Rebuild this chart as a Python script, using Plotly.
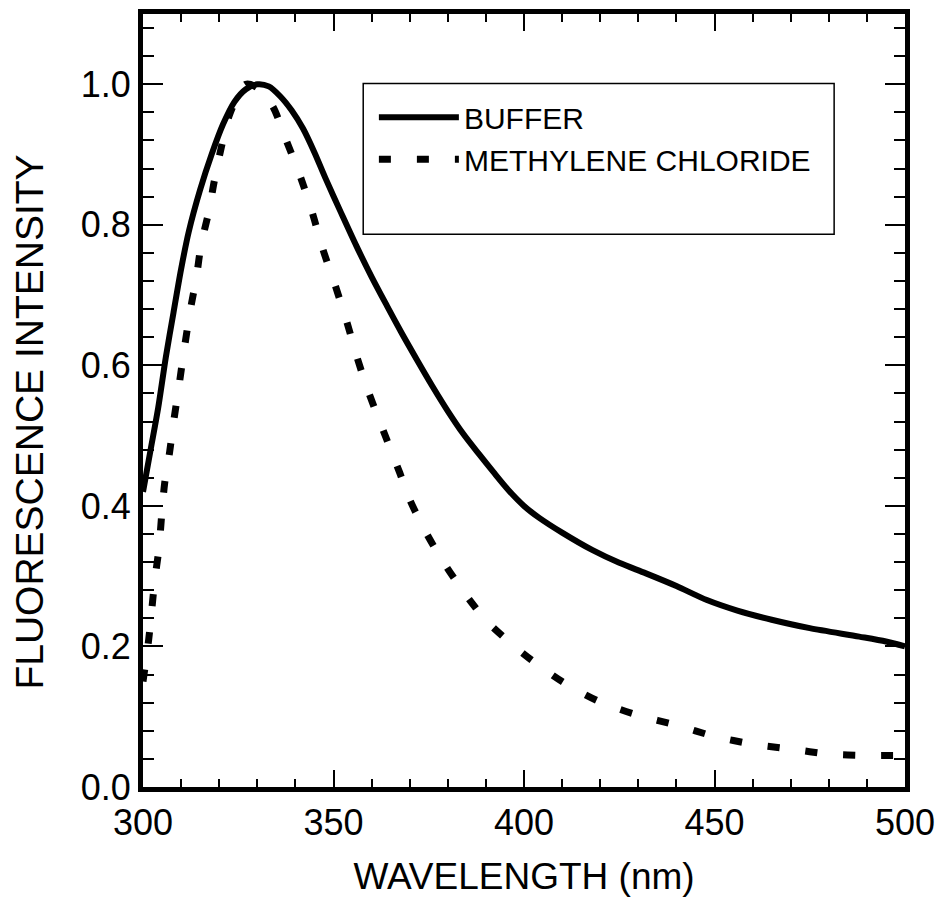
import plotly.graph_objects as go

# Emission spectra (normalized fluorescence intensity vs wavelength)
buffer_wl = [300, 302, 304, 306, 308, 310, 312, 315, 318, 321, 324, 327, 330, 333,
             336, 339, 342, 345, 348, 352, 356, 360, 364, 368, 372, 376, 380, 384,
             388, 392, 396, 400, 404, 410, 418, 425, 432, 440, 448, 456, 465, 475,
             488, 495, 500]
buffer_int = [0.42, 0.48, 0.54, 0.612, 0.675, 0.737, 0.79, 0.85, 0.90, 0.943, 0.975,
              0.993, 1.0, 0.997, 0.983, 0.963, 0.937, 0.903, 0.865, 0.817, 0.77, 0.726,
              0.685, 0.645, 0.607, 0.57, 0.535, 0.503, 0.475, 0.448, 0.422, 0.40, 0.383,
              0.362, 0.337, 0.319, 0.304, 0.286, 0.266, 0.251, 0.238, 0.226, 0.214,
              0.207, 0.20]

mecl_wl = [300, 301.5, 303.1, 304.2, 304.9, 305.7, 307, 308.1, 309.4, 310.9, 312.5,
           314, 315.3, 317.2, 318.7, 320.5, 322.6, 325, 327, 330, 334, 337.4, 341.4,
           344.5, 347.1, 350.5, 353.6, 356.2, 359, 361, 364, 367.4, 370, 374.6,
           379.8, 386.3, 390.2, 400, 410, 420, 430, 440, 450, 460, 470, 480, 490, 500]
mecl_int = [0.15, 0.21, 0.295, 0.34, 0.387, 0.433, 0.477, 0.522, 0.569, 0.626, 0.681,
            0.725, 0.773, 0.817, 0.862, 0.909, 0.955, 0.985, 1.0, 0.995, 0.969, 0.923,
            0.867, 0.816, 0.767, 0.713, 0.66, 0.611, 0.565, 0.536, 0.494, 0.447,
            0.409, 0.359, 0.312, 0.262, 0.236, 0.189, 0.150, 0.121, 0.102, 0.088,
            0.072, 0.061, 0.054, 0.047, 0.045, 0.045]

x_ticks = [300, 350, 400, 450, 500]
y_ticks = [0.0, 0.2, 0.4, 0.6, 0.8, 1.0]
x_range = [300, 500]
y_range = [0, 1.1]

FONT = "Liberation Sans, Arial, Helvetica, sans-serif"

fig = go.Figure()
fig.add_trace(go.Scatter(x=buffer_wl, y=buffer_int, mode="lines", name="BUFFER",
                         line=dict(color="black", width=6, shape="spline", smoothing=0.8)))
fig.add_trace(go.Scatter(x=mecl_wl, y=mecl_int, mode="lines", name="METHYLENE CHLORIDE",
                         line=dict(color="black", width=7, dash="12px,26px",
                                   shape="spline", smoothing=0.8)))
# empty trace that brings the top/right frame axes into existence
fig.add_trace(go.Scatter(x=[None], y=[None], xaxis="x2", yaxis="y2", mode="lines",
                         showlegend=False, hoverinfo="skip"))

frame = dict(showgrid=False, zeroline=False, showline=True, linecolor="black",
             linewidth=5, ticks="inside", tickcolor="black", tickwidth=2)
tickfont = dict(family=FONT, size=36, color="black")
x_minor = dict(dtick=10, tick0=300, ticks="inside", ticklen=8, tickwidth=2, tickcolor="black")
y_minor = dict(dtick=0.04, tick0=0, ticks="inside", ticklen=11, tickwidth=2, tickcolor="black")

fig.update_layout(
    # bottom / left axes with labels
    xaxis=dict(range=x_range, tickvals=x_ticks, ticklen=17, minor=x_minor,
               tickfont=tickfont,
               title=dict(text="WAVELENGTH (nm)", font=dict(family=FONT, size=37, color="black"),
                          standoff=22),
               **frame),
    yaxis=dict(range=y_range, tickvals=y_ticks, tickformat=".1f", ticklen=20,
               minor=y_minor, tickfont=tickfont, **frame),
    # top / right frame axes carrying the same ticks
    xaxis2=dict(range=x_range, tickvals=x_ticks, ticklen=17, minor=x_minor,
                overlaying="x", side="top", anchor="y2", showticklabels=False, **frame),
    yaxis2=dict(range=y_range, tickvals=y_ticks, ticklen=20, minor=y_minor,
                overlaying="y", side="right", anchor="x2", showticklabels=False, **frame),
)

# y-axis title
fig.add_annotation(text="FLUORESCENCE INTENSITY", xref="paper", yref="paper",
                   x=-0.149, y=0.472, xanchor="center", yanchor="middle",
                   textangle=-90, showarrow=False,
                   font=dict(family=FONT, size=39, color="black"))

# Legend frame
fig.add_shape(type="rect", xref="paper", yref="paper",
              x0=0.289, x1=0.907, y0=0.715, y1=0.91,
              line=dict(color="black", width=1.5), fillcolor="white", layer="below")

fig.update_layout(
    width=947, height=915,
    margin=dict(l=143, r=39, t=14, b=128),
    paper_bgcolor="white", plot_bgcolor="white",
    font=dict(family=FONT, color="black"),
    legend=dict(x=0.303, y=0.900, xanchor="left", yanchor="top",
                bgcolor="rgba(0,0,0,0)", borderwidth=0,
                font=dict(family=FONT, size=30, color="black"),
                itemwidth=80, tracegroupgap=0),
    showlegend=True,
)

fig.write_html("out.html")
